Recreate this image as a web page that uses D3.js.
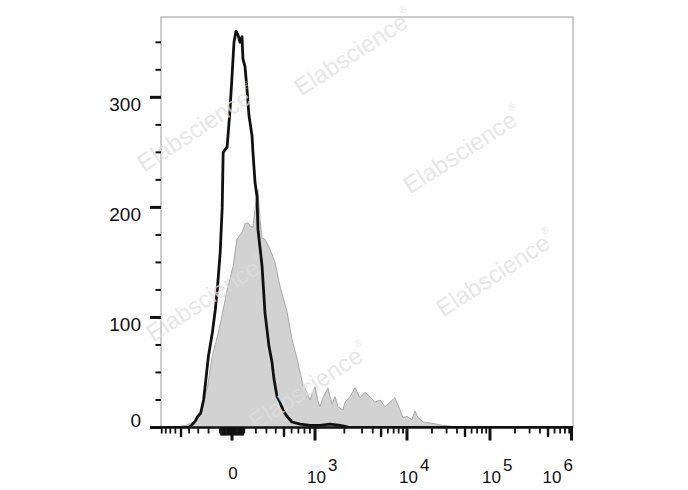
<!DOCTYPE html>
<html><head><meta charset="utf-8">
<script src="https://cdn.jsdelivr.net/npm/d3@7/dist/d3.min.js"></script>
<style>body{margin:0;background:#fff}text{font-family:"Liberation Sans",Arial,sans-serif}</style>
</head><body><svg id="c" width="688" height="490"></svg>
<script>
// ---- data ----
// control (isotype) histogram: fluorescence value, count
const controlX = [-1000,-600,-400,-360,-330,-306,-276,-247,-228,-201,-166,-140,-123,-98,-81,-73,-40,-16,0,16,32,48,65,81,89,106,123,140,166,174,192,210,219,257,286,306,326,359,380,415,451,487,539,605,728,900,1128,1432,1808,2032,2276,5000,1e5,1e6];
const controlY = [0,0,0,3,6,10,13,25,41,65,86,107,125,159,200,250,255,289,319,350,360,357,350,355,335,328,307,283,265,250,223,210,180,147,104,89,74,59,44,28,23,16,10,5,3,2,2,3,2,1,0,0,0,0];
// sample histogram: fluorescence value, count
const sampleX = [-1000,-605,-500,-437,-380,-326,-276,-210,-166,-114,-73,-40,8,40,81,106,131,148,174,192,201,210,219,238,257,286,337,392,451,539,605,681,777,845,900,938,1000,1075,1128,1213,1364,1500,1608,1724,1936,2032,2276,2556,2864,3252,3716,4252,4861,5552,6352,7256,8290,8985,10000,11490,12480,13570,15580,18940,23000,26400,35800,43500,75700,80000,124800,130000,1e6];
const sampleY = [0,0,1,2,4,6,13,37,65,86,107,125,146,171,177,185,186,183,182,198,205,212,216,189,172,171,162,150,128,105,80,62,38,32,25,30,37,24,19,27,36,21,28,19,16,23,28,36,27,32,28,23,25,19,23,27,16,9,10,7,15,9,5,4,3,2,1,0,1,0,1,0,0];
const yMajor = [0,100,200,300];
const yMinor = [25,50,75,125,150,175,225,250,275,325,350];
const xMajor = [0,1e3,1e4,1e5,1e6];
const xMajorLabels = ["0","3","4","5","6"];
const xMedium = [-500,500,5e3,5e4,5e5];
const xMinor = [-900,-800,-700,-600,-400,-300,-200,-100,-90,-80,-70,-60,-50,-40,-30,-20,-10,
  10,20,30,40,50,60,70,80,90,100,200,300,400,600,700,800,900,
  2e3,3e3,4e3,6e3,7e3,8e3,9e3,2e4,3e4,4e4,6e4,7e4,8e4,9e4,2e5,3e5,4e5,6e5,7e5,8e5,9e5];
const watermark = "Elabscience";

// ---- layout ----
const L = 161, R = 573, T0 = 17, B = 427.5;
const svg = d3.select("#c");
const tr = v => Math.asinh(v / 400);
const knotVals = [-1000,-500,0,500,1000,3000,10000,1e6];
const knotPx = [158,181,232,284,315,362,407,573];
const xLin = d3.scaleLinear().domain(knotVals.map(tr)).range(knotPx);
const x = v => xLin(tr(v));
const y = d3.scaleLinear().domain([0,373]).range([B, T0]);

svg.append("defs").append("clipPath").attr("id","clip")
  .append("rect").attr("x",L).attr("y",T0).attr("width",R-L).attr("height",B-T0);

// frame
svg.append("rect").attr("x",L).attr("y",T0).attr("width",R-L).attr("height",B-T0)
  .attr("fill","none").attr("stroke","#9a9a9a").attr("stroke-width",1);

const g = svg.append("g").attr("clip-path","url(#clip)");
const sample = sampleX.map((v,i)=>[v,sampleY[i]]);
const control = controlX.map((v,i)=>[v,controlY[i]]);

g.append("path").datum(sample)
  .attr("d", d3.area().x(d=>x(d[0])).y0(y(0)).y1(d=>y(d[1])))
  .attr("fill","#d2d2d2").attr("stroke","#a8a8a8").attr("stroke-width",1);

// watermarks
const wm = [[355,54],[464,152],[497,275],[198,130],[207,300],[310,388]];
const wmg = svg.append("g");
wm.forEach(p=>{
  const t = wmg.append("text").attr("transform",`translate(${p[0]},${p[1]}) rotate(-33)`)
    .attr("text-anchor","middle").attr("dominant-baseline","middle")
    .attr("font-size",24).attr("fill","#dedede").attr("fill-opacity",0.75).text(watermark);
  t.append("tspan").attr("font-size",10).attr("dy",-11).text("®");
});

g.append("path").datum(control)
  .attr("d", d3.line().x(d=>x(d[0])).y(d=>y(d[1])))
  .attr("fill","none").attr("stroke","#111").attr("stroke-width",2.8).attr("stroke-linejoin","round");

// axes
svg.append("line").attr("x1",L).attr("x2",R).attr("y1",B).attr("y2",B)
  .attr("stroke","#111").attr("stroke-width",2.5);

const yt = svg.append("g");
yMajor.forEach(v=>yt.append("line").attr("x1",150).attr("x2",L).attr("y1",y(v)).attr("y2",y(v)).attr("stroke","#111").attr("stroke-width",3));
yMinor.forEach(v=>yt.append("line").attr("x1",155.5).attr("x2",L).attr("y1",y(v)).attr("y2",y(v)).attr("stroke","#111").attr("stroke-width",2));
yMajor.forEach(v=>yt.append("text").attr("x",141).attr("y", v===0 ? y(v)-0.5 : y(v)+14)
  .attr("text-anchor","end").attr("font-size",19).attr("fill","#111").text(v));

const xt = svg.append("g");
xMinor.forEach(v=>xt.append("line").attr("x1",x(v)).attr("x2",x(v)).attr("y1",B).attr("y2",B+(Math.abs(v)<100?8:6)).attr("stroke","#111").attr("stroke-width",1.8));
xMedium.forEach(v=>xt.append("line").attr("x1",x(v)).attr("x2",x(v)).attr("y1",B).attr("y2",B+9.5).attr("stroke","#111").attr("stroke-width",2.4));
xMajor.forEach(v=>xt.append("line").attr("x1",Math.min(x(v),R-1.5)).attr("x2",Math.min(x(v),R-1.5)).attr("y1",B).attr("y2",B+13).attr("stroke","#111").attr("stroke-width",3));

xMajor.forEach((v,i)=>{
  if (v===0) {
    xt.append("text").attr("x",x(v)+1).attr("y",479).attr("text-anchor","middle")
      .attr("font-size",17).attr("fill","#111").text(xMajorLabels[i]);
  } else {
    const last = i===xMajor.length-1;
    const t = xt.append("text").attr("x", last ? R : x(v)-8).attr("y",483)
      .attr("text-anchor", last ? "end" : "start").attr("font-size",17).attr("fill","#111");
    t.append("tspan").text("10");
    t.append("tspan").attr("dx",2).attr("dy",-12).text(xMajorLabels[i]);
  }
});
</script></body></html>
